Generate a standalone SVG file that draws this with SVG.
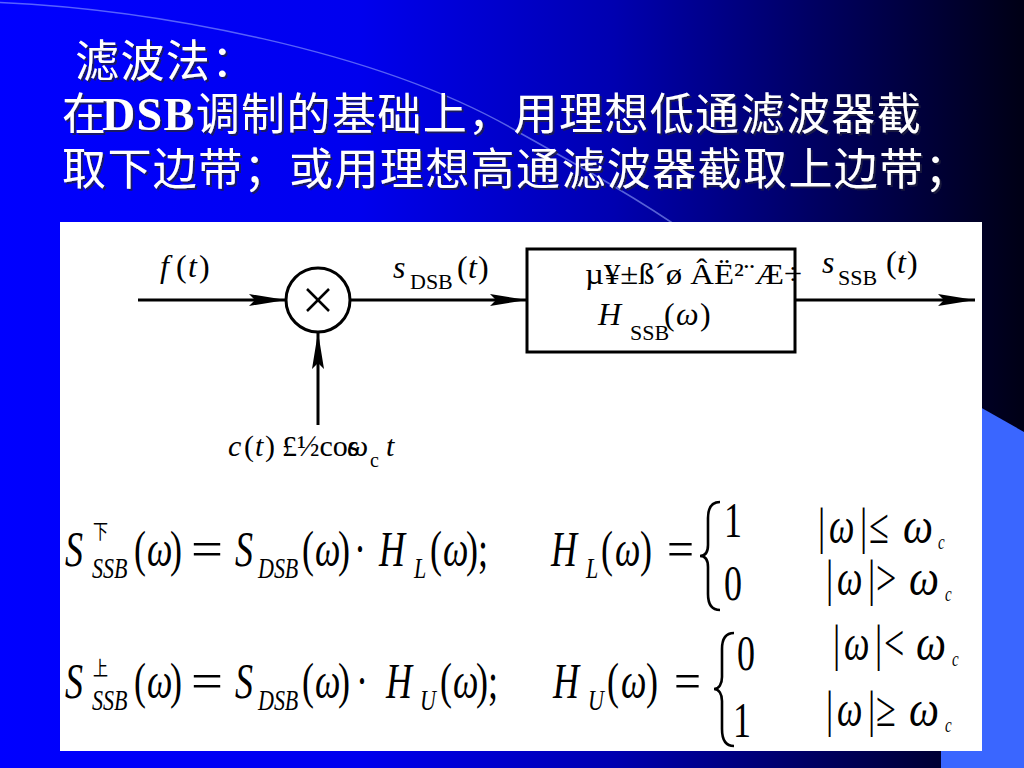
<svg xmlns="http://www.w3.org/2000/svg" width="1024" height="768" viewBox="0 0 1024 768">
<defs>
<linearGradient id="bg" x1="0" y1="0" x2="1" y2="0">
<stop offset="0" stop-color="#0000FF"/>
<stop offset="0.35" stop-color="#0000EE"/>
<stop offset="0.6" stop-color="#0000B0"/>
<stop offset="0.8" stop-color="#000060"/>
<stop offset="1" stop-color="#000015"/>
</linearGradient>
<filter id="sh" x="-5%" y="-20%" width="110%" height="140%">
<feDropShadow dx="2" dy="2" stdDeviation="0.6" flood-color="#202040" flood-opacity="0.8"/>
</filter>
<marker id="arr" markerUnits="userSpaceOnUse" markerWidth="40" markerHeight="14" refX="37" refY="6" orient="auto">
<path d="M0,0 L37,6 L0,12 L6,6 Z" fill="#000"/>
</marker>
<style>
.t{font-family:"Liberation Serif","Times New Roman","DejaVu Serif",serif;fill:#000}
.i{font-style:italic}
.m{font-family:"Liberation Serif","Times New Roman","DejaVu Serif",serif;font-size:36px;fill:#000}
.s{font-size:22px}
.c{font-size:15px}
.cjk{font-family:"Noto Sans CJK SC",sans-serif}
.ln{stroke:#000;stroke-width:3;fill:none}
.br{stroke:#000;stroke-width:2.6;fill:none}
</style>
</defs>

<!-- background -->
<rect x="0" y="0" width="1024" height="768" fill="url(#bg)"/>
<polygon points="941,385 1024,432 1024,768 941,768" fill="#3A66FF"/>
<path d="M-10,2 C150,8 380,50 520,133 C590,172 640,200 690,235" stroke="#9FB0FF" stroke-width="1.5" fill="none" opacity="0.55"/>
<rect x="60" y="222" width="922" height="529" fill="#FFFFFF"/>

<!-- title -->
<g id="title" font-family="Noto Sans CJK SC, sans-serif" font-size="44" fill="#FFFFFF" letter-spacing="1.4" filter="url(#sh)">
<text x="75" y="77">滤波法：</text>
<text x="62" y="130">在<tspan x="102" font-family="Liberation Serif, Times New Roman, DejaVu Serif, serif" font-weight="bold" font-size="46">DSB</tspan>调制的基础上，用理想低通滤波器截</text>
<text x="62" y="185">取下边带；或用理想高通滤波器截取上边带；</text>
</g>

<!-- connectors -->
<g id="connectors">
<line class="ln" x1="138" y1="300" x2="286" y2="300" marker-end="url(#arr)"/>
<line class="ln" x1="350" y1="300" x2="527" y2="300" marker-end="url(#arr)"/>
<line class="ln" x1="318" y1="425" x2="318" y2="332" marker-end="url(#arr)"/>
<line class="ln" x1="795" y1="300" x2="975" y2="300" marker-end="url(#arr)"/>
</g>

<!-- multiplier node -->
<g id="multiplier">
<circle cx="318" cy="300" r="32" fill="#FFFFFF" stroke="#000" stroke-width="3"/>
<line x1="307" y1="289" x2="329" y2="311" stroke="#000" stroke-width="2.5"/>
<line x1="307" y1="311" x2="329" y2="289" stroke="#000" stroke-width="2.5"/>
</g>

<!-- filter node -->
<g id="filter">
<rect x="527" y="249" width="268" height="103" fill="none" stroke="#000" stroke-width="3"/>
<text class="t" x="585" y="284" font-size="30" textLength="217" lengthAdjust="spacingAndGlyphs">µ¥±ß´ø ÂË²¨Æ÷</text>
<text class="t i" x="598" y="325" font-size="32">H</text>
<text class="t s" x="630" y="340">SSB</text>
<text class="t" x="664" y="325" font-size="32">(</text>
<text class="t i" x="676" y="325" font-size="32">ω</text>
<text class="t" x="700" y="325" font-size="32">)</text>
</g>

<!-- signal labels -->
<g id="label-f">
<text class="t i" x="160" y="277" font-size="32">f</text>
<text class="t" x="176" y="277" font-size="32">(</text>
<text class="t i" x="188" y="277" font-size="32">t</text>
<text class="t" x="199" y="277" font-size="32">)</text>
</g>
<g id="label-sdsb">
<text class="t i" x="393" y="278" font-size="32">s</text>
<text class="t s" x="410" y="289">DSB</text>
<text class="t" x="457" y="278" font-size="32">(</text>
<text class="t i" x="468" y="278" font-size="32">t</text>
<text class="t" x="478" y="278" font-size="32">)</text>
</g>
<g id="label-sssb">
<text class="t i" x="822" y="273" font-size="32">s</text>
<text class="t s" x="838" y="285">SSB</text>
<text class="t" x="886" y="273" font-size="32">(</text>
<text class="t i" x="897" y="273" font-size="32">t</text>
<text class="t" x="907" y="273" font-size="32">)</text>
</g>
<g id="label-c">
<text class="t i" x="228" y="456" font-size="30">c</text>
<text class="t" x="244" y="456" font-size="30">(</text>
<text class="t i" x="255" y="456" font-size="30">t</text>
<text class="t" x="265" y="456" font-size="30">)</text>
<text class="t" x="282" y="456" font-size="30">£½cos</text>
<text class="t i" x="347" y="456" font-size="30">ω</text>
<text class="t" x="370" y="467" font-size="20">c</text>
<text class="t i" x="386" y="456" font-size="30">t</text>
</g>

<!-- formula row 1 -->
<g id="formula-lower" transform="translate(0,566) scale(1,1.38)">
<text class="m i" x="65" y="0">S</text>
<text class="cjk" x="93" y="-19.6" font-size="15">下</text>
<text class="m i s" x="92" y="8.7">SSB</text>
<text class="m" x="134" y="0">(</text><text class="m i" x="147" y="0">ω</text><text class="m" x="170" y="0">)</text>
<text class="m" x="191" y="0" textLength="32" lengthAdjust="spacingAndGlyphs">=</text>
<text class="m i" x="235" y="0">S</text>
<text class="m i s" x="258" y="8.7">DSB</text>
<text class="m" x="302" y="0">(</text><text class="m i" x="315" y="0">ω</text><text class="m" x="338" y="0">)</text>
<text class="m" x="354" y="0">·</text>
<text class="m i" x="379" y="0">H</text>
<text class="m i s" x="414" y="8.7">L</text>
<text class="m" x="430" y="0">(</text><text class="m i" x="443" y="0">ω</text><text class="m" x="466" y="0">);</text>
<text class="m i" x="551" y="0">H</text>
<text class="m i s" x="586" y="8.7">L</text>
<text class="m" x="601" y="0">(</text><text class="m i" x="615" y="0">ω</text><text class="m" x="640" y="0">)</text>
<text class="m" x="667" y="0" textLength="27" lengthAdjust="spacingAndGlyphs">=</text>
<text class="m" x="724" y="-21">1</text>
<text class="m" x="724" y="24.6">0</text>
<text class="m" x="818" y="-16.7">|</text><text class="m i" x="829" y="-16.7">ω</text><text class="m" x="860" y="-16.7">|</text><text class="m" x="869" y="-16.7">≤</text><text class="m i" x="903" y="-16.7" textLength="30" lengthAdjust="spacingAndGlyphs">ω</text><text class="m i c" x="938" y="-12">c</text>
<text class="m" x="826" y="21">|</text><text class="m i" x="837" y="21">ω</text><text class="m" x="868" y="21">|</text><text class="m" x="876" y="21">&gt;</text><text class="m i" x="909" y="21" textLength="30" lengthAdjust="spacingAndGlyphs">ω</text><text class="m i c" x="945" y="25.5">c</text>
</g>
<path class="br" d="M720,502 C711,502 708,508 708,518 L708,545 C708,552 705,556 700,556 C705,556 708,560 708,567 L708,594 C708,604 711,610 720,610"/>

<!-- formula row 2 -->
<g id="formula-upper" transform="translate(0,698) scale(1,1.38)">
<text class="m i" x="65" y="0">S</text>
<text class="cjk" x="93" y="-16" font-size="15">上</text>
<text class="m i s" x="92" y="8.7">SSB</text>
<text class="m" x="134" y="0">(</text><text class="m i" x="147" y="0">ω</text><text class="m" x="170" y="0">)</text>
<text class="m" x="191" y="0" textLength="32" lengthAdjust="spacingAndGlyphs">=</text>
<text class="m i" x="235" y="0">S</text>
<text class="m i s" x="258" y="8.7">DSB</text>
<text class="m" x="302" y="0">(</text><text class="m i" x="315" y="0">ω</text><text class="m" x="338" y="0">)</text>
<text class="m" x="356" y="0">·</text>
<text class="m i" x="386" y="0">H</text>
<text class="m i s" x="420" y="8.7">U</text>
<text class="m" x="440" y="0">(</text><text class="m i" x="453" y="0">ω</text><text class="m" x="476" y="0">);</text>
<text class="m i" x="553" y="0">H</text>
<text class="m i s" x="588" y="8.7">U</text>
<text class="m" x="607" y="0">(</text><text class="m i" x="621" y="0">ω</text><text class="m" x="646" y="0">)</text>
<text class="m" x="674" y="0" textLength="27" lengthAdjust="spacingAndGlyphs">=</text>
<text class="m" x="737" y="-20.3">0</text>
<text class="m" x="733" y="28.3">1</text>
<text class="m" x="833" y="-27.5">|</text><text class="m i" x="844" y="-27.5">ω</text><text class="m" x="875" y="-27.5">|</text><text class="m" x="884" y="-27.5">&lt;</text><text class="m i" x="916" y="-27.5" textLength="30" lengthAdjust="spacingAndGlyphs">ω</text><text class="m i c" x="952" y="-23">c</text>
<text class="m" x="826" y="20.3">|</text><text class="m i" x="837" y="20.3">ω</text><text class="m" x="868" y="20.3">|</text><text class="m" x="876" y="20.3">≥</text><text class="m i" x="909" y="20.3" textLength="30" lengthAdjust="spacingAndGlyphs">ω</text><text class="m i c" x="945" y="25">c</text>
</g>
<path class="br" d="M734,633 C725,633 722,639 722,649 L722,677 C722,684 719,689 714,689 C719,689 722,694 722,701 L722,729 C722,739 725,746 734,746"/>
</svg>
